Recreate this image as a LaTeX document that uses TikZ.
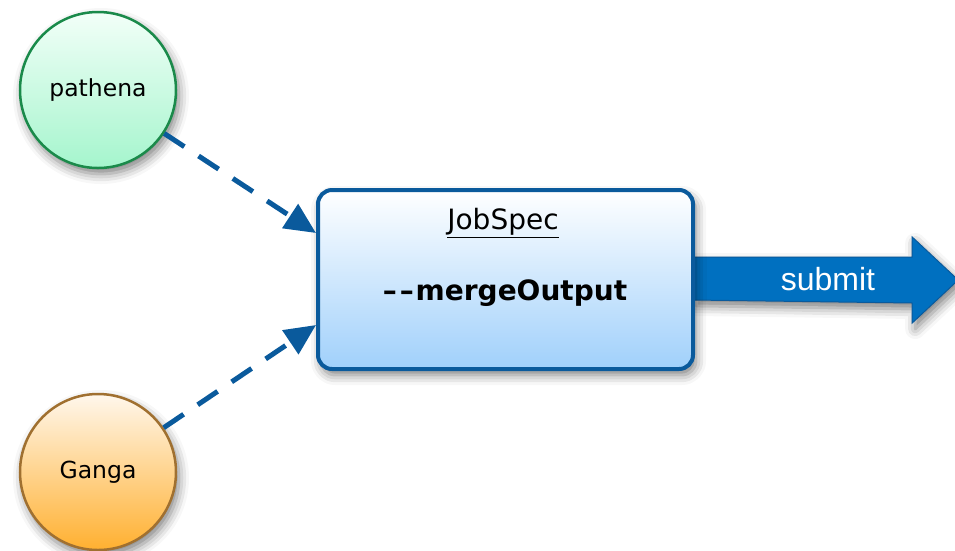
\documentclass[tikz,border=0pt]{standalone}
\usepackage{fontspec}
\setmainfont{DejaVu Sans}
\newfontfamily\arialf{Liberation Sans}
\usetikzlibrary{shadows.blur,arrows.meta,calc}
\definecolor{edgeblue}{HTML}{0A5A9C}
\definecolor{arrowblue}{HTML}{0070C0}
\definecolor{greenedge}{HTML}{1A8A4A}
\definecolor{orangeedge}{HTML}{A07030}
\begin{document}
\begin{tikzpicture}[x=1pt,y=-1pt,
  shad/.style={blur shadow={shadow xshift=3pt,shadow yshift=-6pt,shadow blur radius=10pt,shadow opacity=50}},
  src/.style={circle,minimum size=156pt,inner sep=0pt,line width=2.5pt,font=\fontsize{23.5}{26}\selectfont,shad},
  flow/.style={draw=edgeblue,line width=5pt,dash pattern=on 24pt off 17pt,
    -{Triangle[length=31pt,width=28pt]}}
]
\useasboundingbox (0,0) rectangle (955,550);
% submit arrow (behind the box)
\node[rectangle,minimum width=375pt,minimum height=179pt,inner sep=0pt] (boxpos) at (505.5,279.5) {};
\draw[draw=edgeblue,line width=1pt,fill=arrowblue,shad]
  ($(boxpos.east)+(0,-22.5)$) coordinate (a1) -- ++(219,0) -- ++(0,-20) -- ++(46,43) coordinate (tip)
  -- ++(-46,43) -- ++(0,-20) -- ($(boxpos.east)+(0,20.5)$) coordinate (a2) -- cycle;
\node[text=white,font=\arialf\fontsize{32}{36}\selectfont] (submit) at (828,279) {submit};
% job box
\node[draw=edgeblue,line width=4pt,rounded corners=14pt,minimum width=375pt,minimum height=179pt,
  inner sep=0pt,top color=white,bottom color={rgb,255:red,160;green,208;blue,251},shad] (box) at (505.5,279.5) {};
\node[font=\fontsize{28}{32}\selectfont] (jobspec) at (503,223) {\underline{JobSpec}};
\node[font=\bfseries\fontsize{28}{32}\selectfont] (opt) at (505,293) {\textendash\kern3pt\textendash\kern2pt mergeOutput};
% sources
\node[src,draw=greenedge,top color={rgb,255:red,242;green,255;blue,248},bottom color={rgb,255:red,165;green,245;blue,205}] (pathena) at (98,90) {pathena};
\node[src,draw=orangeedge,top color={rgb,255:red,255;green,247;blue,236},bottom color={rgb,255:red,255;green,176;blue,48}] (ganga) at (98,472) {Ganga};
\coordinate (in1) at ($(box.west)+(0,-46.5)$);
\coordinate (in2) at ($(box.west)+(0,45.5)$);
\draw[flow] (pathena) -- (in1);
\draw[flow] (ganga) -- (in2);
\end{tikzpicture}
\end{document}
